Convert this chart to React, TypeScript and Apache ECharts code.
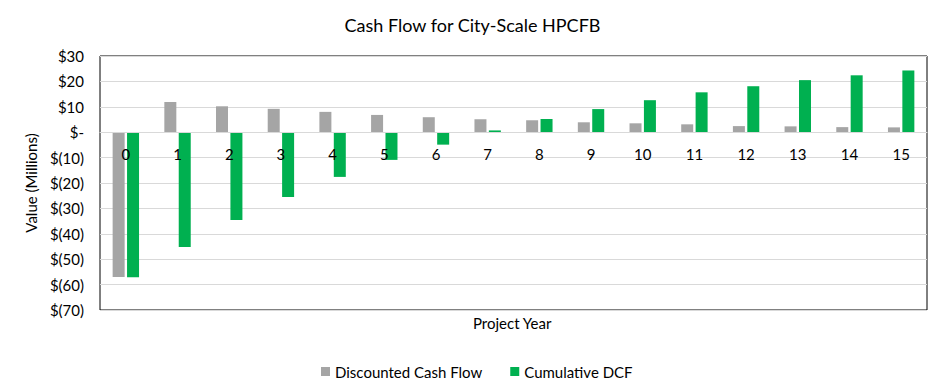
import React, { useEffect, useRef } from "react";
import * as echarts from "echarts";

const years = ["0", "1", "2", "3", "4", "5", "6", "7", "8", "9", "10", "11", "12", "13", "14", "15"];
const discountedCashFlow = [-57, 11.9, 10.2, 9.2, 8.0, 6.8, 5.9, 5.1, 4.7, 3.9, 3.5, 3.1, 2.4, 2.3, 2.0, 1.9];
const cumulativeDCF = [-57.1, -45.2, -34.6, -25.5, -17.6, -10.9, -4.9, 0.7, 5.2, 9.1, 12.6, 15.7, 18.1, 20.5, 22.4, 24.3];
const Y_MIN = -70;
const Y_MAX = 30;

const FONT = "Lato, 'Open Sans', sans-serif";
const GRID_TOP = 56;
const GRID_BOTTOM = 82;
const HEIGHT = 392;

export default function App() {
  const ref = useRef<HTMLDivElement>(null);
  useEffect(() => {
    if (!ref.current) return;
    const chart = echarts.init(ref.current, undefined, { renderer: "svg" });
    const plotH = HEIGHT - GRID_TOP - GRID_BOTTOM;
    const zeroFromBottom = (-Y_MIN / (Y_MAX - Y_MIN)) * plotH;
    chart.setOption({
      animation: false,
      backgroundColor: "#fff",
      textStyle: { fontFamily: FONT },
      title: {
        text: "Cash Flow for City-Scale HPCFB",
        left: "center",
        top: 11,
        textStyle: { fontFamily: FONT, fontSize: 18, fontWeight: "normal", color: "#000" },
      },
      graphic: [
        {
          type: "text",
          left: 473,
          top: 315,
          style: { text: "Project Year", font: `15px ${FONT}`, fill: "#000" },
        },
      ],
      legend: {
        data: ["Discounted Cash Flow", "Cumulative DCF"],
        left: 316,
        top: 359,
        icon: "rect",
        itemWidth: 9,
        itemHeight: 9,
        itemGap: 28,
        textStyle: { fontFamily: FONT, fontSize: 15, color: "#000" },
      },
      grid: {
        left: 100,
        top: GRID_TOP,
        right: 18,
        bottom: GRID_BOTTOM,
        show: true,
        borderColor: "#000",
        borderWidth: 1,
      },
      xAxis: {
        type: "category",
        data: years,
        z: 5,
        offset: -zeroFromBottom,
        axisLine: { onZero: false, lineStyle: { color: "#d9d9d9", width: 1 } },
        axisTick: { show: false },
        axisLabel: { color: "#000", fontSize: 15, margin: 14, fontFamily: FONT },
      },
      yAxis: {
        type: "value",
        min: Y_MIN,
        max: Y_MAX,
        interval: 10,
        name: "Value (Millions)",
        nameLocation: "middle",
        nameGap: 61,
        nameTextStyle: { fontFamily: FONT, fontSize: 15, color: "#000" },
        axisLine: { show: false },
        axisTick: { show: false },
        splitLine: { lineStyle: { color: "#d9d9d9" } },
        axisLabel: {
          color: "#000",
          fontSize: 15,
          margin: 16,
          fontFamily: FONT,
          formatter: (v: number) => (v === 0 ? "$-" : v < 0 ? `$(${-v})` : `$${v}`),
        },
      },
      series: [
        {
          name: "Discounted Cash Flow",
          type: "bar",
          data: discountedCashFlow,
          barWidth: 12,
          barGap: "20%",
          itemStyle: { color: "#a5a5a5" },
        },
        {
          name: "Cumulative DCF",
          type: "bar",
          data: cumulativeDCF,
          barWidth: 12,
          itemStyle: { color: "#00b050" },
        },
      ],
    });
    return () => chart.dispose();
  }, []);
  return (
    <div
      ref={ref}
      style={{ position: "fixed", left: 0, top: 0, width: 945, height: 392, background: "#fff" }}
    />
  );
}
